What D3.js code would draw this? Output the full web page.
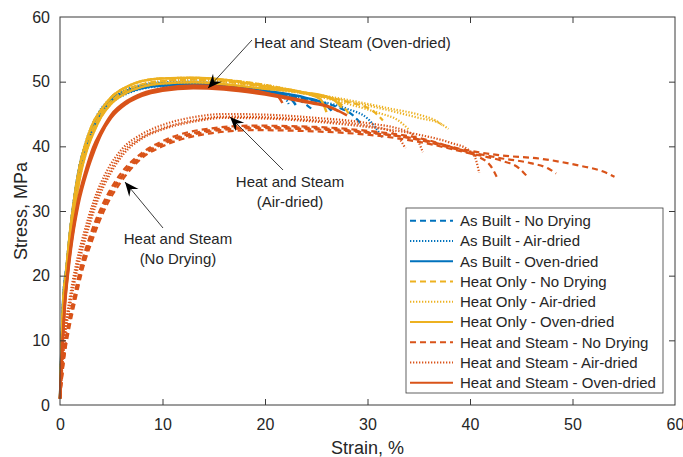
<!DOCTYPE html>
<html>
<head>
<meta charset="utf-8">
<script src="https://cdn.jsdelivr.net/npm/d3@7"></script>
<style>
  body { margin: 0; background: #fff; }
  text { font-family: "Liberation Sans", Arial, Helvetica, sans-serif; fill: #262626; }
</style>
</head>
<body>
<script>
// chart data (strain %, stress MPa), one array per specimen
var seriesNames = [
  "As Built - No Drying", "As Built - Air-dried", "As Built - Oven-dried",
  "Heat Only - No Drying", "Heat Only - Air-dried", "Heat Only - Oven-dried",
  "Heat and Steam - No Drying", "Heat and Steam - Air-dried", "Heat and Steam - Oven-dried"
];

var asBuiltNoDrying = [
  [[0,1],[0.3,16],[0.65,21.5],[1,27],[1.4,32],[1.9,36.8],[2.5,40.3],[3.2,43.2],[4,45.6],[5,47.2],[6.5,48.6],[8,49.3],[10,49.7],[13,49.8],[16,49.4],[20,48.4],[22,47.8],[23.5,47.0],[24.7,45.6]],
  [[0,1],[0.32,15.5],[0.7,21.2],[1.05,26.6],[1.45,31.5],[1.95,36.2],[2.6,40],[3.3,42.9],[4,45.2],[5,46.9],[6.5,48.3],[8,49],[10,49.4],[13,49.5],[16,49.2],[20,48.3],[24,47.3],[27,46.1],[28.5,44.9],[29.3,43.6]]
];
var asBuiltAirDried = [
  [[0,1],[0.3,16.2],[0.65,21.8],[1,27.3],[1.4,32.3],[1.9,37],[2.5,40.6],[3.2,43.5],[4,45.8],[5,47.4],[6.5,48.8],[8,49.5],[10,49.9],[13,50],[16,49.6],[20,48.6],[24,47.4],[28,45.8],[30,44.3],[31.5,41.3]],
  [[0,1],[0.33,15.6],[0.7,21],[1.05,26.4],[1.45,31.3],[1.95,36],[2.6,39.8],[3.3,42.7],[4,45],[5,46.7],[6.5,48.1],[8,48.9],[10,49.3],[13,49.4],[16,49.1],[20,48.2],[21.8,47.6],[22.4,46.3]]
];
var asBuiltOvenDried = [
  [[0,1],[0.3,16],[0.65,21.5],[1,27],[1.4,32],[1.9,36.8],[2.5,40.3],[3.2,43.2],[4,45.6],[5,47.2],[6.5,48.6],[8,49.3],[10,49.7],[13,49.8],[16,49.4],[20,48.6],[24,47.5],[25.8,46.6],[26.5,45.5]],
  [[0,1],[0.32,15.5],[0.7,21.2],[1.05,26.6],[1.45,31.5],[1.95,36.2],[2.6,40],[3.3,42.9],[4,45.2],[5,46.9],[6.5,48.3],[8,49],[10,49.4],[13,49.5],[16,49.2],[20,48.3],[22.3,47.6],[23,46.4]]
];

var heatOnlyNoDrying = [
  [[0,1],[0.33,15.8],[0.65,20.9],[0.98,26],[1.4,31.2],[1.95,36.3],[2.5,39.6],[3.2,42.6],[4,45],[5,47],[6.5,48.7],[8,49.6],[10,50.1],[13,50.3],[16,50],[20,49.2],[24,48.1],[27,47],[28.3,44.8]],
  [[0,1],[0.3,15.5],[0.62,21],[0.95,26.4],[1.35,31.5],[1.9,36.8],[2.45,40.2],[3.1,43.2],[4,45.6],[5,47.6],[6.5,49.2],[8,50.1],[10,50.5],[13,50.6],[16,50.3],[20,49.5],[24,48.2],[28,46.9],[30.5,45.5],[31.5,44]]
];
var heatOnlyAirDried = [
  [[0,1],[0.33,15.8],[0.65,20.9],[0.98,26],[1.4,31.2],[1.95,36.3],[2.5,39.6],[3.2,42.6],[4,45],[5,47],[6.5,48.7],[8,49.6],[10,50.1],[13,50.3],[16,50],[20,49.2],[24,48.2],[28,47],[32,45.6],[35,44.4],[37,43.6],[37.9,42.7]],
  [[0,1],[0.35,15.6],[0.7,20.8],[1.05,25.8],[1.5,31],[2.05,36],[2.6,39.3],[3.3,42.2],[4,44.5],[5,46.6],[6.5,48.3],[8,49.2],[10,49.7],[13,49.9],[16,49.6],[20,48.9],[24,48.1],[28,46.6],[31,45.2],[33,44],[34.1,42.5]],
  [[0,1],[0.3,15.5],[0.62,21],[0.95,26.4],[1.35,31.5],[1.9,36.8],[2.45,40.2],[3.1,43.2],[4,45.6],[5,47.6],[6.5,49.2],[8,50.1],[10,50.5],[13,50.6],[16,50.3],[20,49.5],[24,48.3],[28,47.2],[32,45.9],[35,44.9],[36.5,44.1],[37.3,43.3]]
];
var heatOnlyOvenDried = [
  [[0,1],[0.3,15.5],[0.62,21],[0.95,26.4],[1.35,31.5],[1.9,36.8],[2.45,40.2],[3.1,43.2],[4,45.6],[5,47.6],[6.5,49.2],[8,50.1],[10,50.5],[13,50.6],[16,50.3],[20,49.3],[24,48.2],[25.4,47.3],[26,45.3]],
  [[0,1],[0.35,15.6],[0.7,20.8],[1.05,25.8],[1.5,31],[2.05,36],[2.6,39.3],[3.3,42.2],[4,44.5],[5,46.6],[6.5,48.3],[8,49.2],[10,49.7],[13,49.9],[16,49.6],[20,48.9],[24,48.3],[26.5,47.4],[27.5,46]]
];

var heatSteamNoDrying = [
  [[0,1],[0.4,7.5],[0.9,12.5],[1.46,16.5],[2.1,20.9],[3.1,26],[4.4,31],[5.85,34.8],[8,38.5],[10,40.3],[13.5,42],[19,42.8],[25,42.6],[30,42.1],[35,41.1],[40,39.3],[43,38.6],[46.8,38.1],[50.7,37],[53,36.1],[54.1,35.3]],
  [[0,1],[0.38,7.8],[0.85,12.9],[1.4,17],[2,21.3],[3,26.5],[4.3,31.5],[5.7,35.3],[8,39],[10,40.8],[13.5,42.5],[19,43.2],[25,43],[30,42.4],[35,41.3],[40,39.1],[42.9,38.2],[45.9,37.4],[47.6,36.6],[48.4,35.8]],
  [[0,1],[0.42,7.3],[0.95,12.2],[1.5,16.2],[2.15,20.6],[3.2,25.7],[4.5,30.7],[6,34.6],[8,38.2],[10,40],[13.5,41.7],[19,42.5],[25,42.3],[30,41.8],[35,40.7],[40,38.9],[43,37.8],[44.8,36.6],[45.6,35.3]],
  [[0,1],[0.4,7.6],[0.88,12.7],[1.43,16.8],[2.05,21.1],[3.05,26.2],[4.35,31.2],[5.8,35],[8,38.7],[10,40.5],[13.5,42.2],[19,43],[25,42.8],[30,42.2],[35,41],[38,39.8],[40.5,38.6],[42,37],[42.6,35.3]]
];
var heatSteamAirDried = [
  [[0,1],[0.45,10.5],[0.98,16],[1.6,21],[2.44,26.2],[3.4,31.2],[4.9,36.3],[6,38.9],[8,41.4],[10,42.8],[13,44],[16,44.6],[20,44.5],[25,44],[30,43.2],[32.5,42.2],[33.7,39.7]],
  [[0,1],[0.42,10.8],[0.92,16.3],[1.52,21.4],[2.34,26.6],[3.3,31.6],[4.75,36.7],[6,39.5],[8,41.9],[10,43.3],[13,44.5],[16,45],[20,44.9],[25,44.4],[30,43.6],[34,42.2],[35,40.6],[35.4,39.1]],
  [[0,1],[0.48,10.3],[1.02,15.7],[1.66,20.7],[2.52,25.9],[3.5,30.9],[5,36],[6.2,38.8],[8,41.2],[10,42.6],[13,43.8],[16,44.4],[20,44.3],[25,43.8],[30,43],[35,41.8],[38,40.6],[40,39.3],[40.6,37.8],[40.9,35.9]]
];
var heatSteamOvenDried = [
  [[0,1],[0.49,15.8],[0.8,20.9],[1.2,26],[1.76,31.2],[2.6,36.3],[3.3,39.5],[4,42],[5,44.6],[6.5,46.8],[8,48],[10,48.8],[13,49.2],[16,49],[20,48.2],[24,47],[26.5,46],[28,44.8]],
  [[0,1],[0.47,15.9],[0.78,21.1],[1.17,26.2],[1.72,31.4],[2.55,36.5],[3.22,39.8],[4,42.3],[5,44.9],[6.5,47],[8,48.2],[10,49],[13,49.4],[16,49.2],[20,48.3],[21.2,47.8],[21.7,46.7]],
  [[0,1],[0.5,15.7],[0.82,20.8],[1.23,25.9],[1.8,31],[2.65,36.1],[3.35,39.3],[4,41.8],[5,44.4],[6.5,46.6],[8,47.8],[10,48.6],[13,49],[16,48.8],[20,48],[24,46.8],[26.4,46],[27.2,45.4]]
];

var xTicks = [0, 10, 20, 30, 40, 50, 60];
var yTicks = [0, 10, 20, 30, 40, 50, 60];

// annotations: text lines, text anchor (data), arrow tail and tip (data)
var noteTexts = [["Heat and Steam (Oven-dried)"], ["Heat and Steam", "(Air-dried)"], ["Heat and Steam", "(No Drying)"]];
var noteAnchors = [[18.93, 55.98], [22.44, 34.6], [11.51, 25.8]];
var noteTails = [[18.73, 56.44], [21.76, 36.34], [10.05, 27.37]];
var noteTips = [[14.44, 49.0], [16.59, 44.53], [6.34, 34.48]];

// styles
var allSeries = [asBuiltNoDrying, asBuiltAirDried, asBuiltOvenDried,
                 heatOnlyNoDrying, heatOnlyAirDried, heatOnlyOvenDried,
                 heatSteamNoDrying, heatSteamAirDried, heatSteamOvenDried];
var colors = ["#0072BD", "#EDB120", "#D95319"];
var dashes = ["6,4", "1.3,1.7", null];

var W = 683, H = 457;
var margin = {top: 17, right: 8, bottom: 52, left: 60},
    width = W - margin.left - margin.right,
    height = H - margin.top - margin.bottom;

var x = d3.scaleLinear().domain([0, 60]).range([0, width]),
    y = d3.scaleLinear().domain([0, 60]).range([height, 0]);

var svg = d3.select("body").append("svg")
    .attr("width", W).attr("height", H)
  .append("g")
    .attr("transform", "translate(" + margin.left + "," + margin.top + ")");

var line = d3.line()
    .x(function(d) { return x(d[0]); })
    .y(function(d) { return y(d[1]); })
    .curve(d3.curveMonotoneX);

// curves
allSeries.forEach(function(reps, i) {
  svg.append("g").selectAll("path")
    .data(reps).enter().append("path")
      .attr("d", line)
      .attr("fill", "none")
      .attr("stroke", colors[Math.floor(i / 3)])
      .attr("stroke-width", i % 3 === 2 ? 2.5 : 2.2)
      .attr("stroke-dasharray", dashes[i % 3]);
});

// axes (box with inward ticks)
var axisCol = "#3a3a3a";
var tickLen = 6;
svg.append("rect")
    .attr("width", width).attr("height", height)
    .attr("fill", "none").attr("stroke", axisCol).attr("stroke-width", 1);

var xa = svg.append("g").attr("transform", "translate(0," + height + ")")
    .call(d3.axisBottom(x).tickValues(xTicks).tickSizeInner(-tickLen).tickSizeOuter(0).tickPadding(14));
var ya = svg.append("g")
    .call(d3.axisLeft(y).tickValues(yTicks).tickSizeInner(-tickLen).tickSizeOuter(0).tickPadding(10));
var xt = svg.append("g")
    .call(d3.axisTop(x).tickValues(xTicks).tickSizeInner(-tickLen).tickSizeOuter(0).tickFormat(""));
var yr = svg.append("g").attr("transform", "translate(" + width + ",0)")
    .call(d3.axisRight(y).tickValues(yTicks).tickSizeInner(-tickLen).tickSizeOuter(0).tickFormat(""));

[xa, ya, xt, yr].forEach(function(a) {
  a.select(".domain").remove();
  a.selectAll("line").attr("stroke", axisCol);
  a.selectAll("text").attr("font-size", 16).attr("fill", "#262626")
    .style("font-family", '"Liberation Sans", Arial, sans-serif');
  a.selectAll(".tick line").filter(function(d) { return d === 0 || d === 60; }).remove();
});

// axis labels
svg.append("text")
    .attr("x", width / 2).attr("y", height + 49)
    .attr("text-anchor", "middle").attr("font-size", 18)
    .text("Strain, %");
svg.append("text")
    .attr("transform", "translate(" + (27 - margin.left) + "," + (height / 2) + ") rotate(-90)")
    .attr("text-anchor", "middle").attr("font-size", 18)
    .text("Stress, MPa");

// annotations
function arrowHead(t, h) {
  var dx = t[0] - h[0], dy = t[1] - h[1], L = Math.sqrt(dx * dx + dy * dy);
  var ux = dx / L, uy = dy / L, px = -uy, py = ux;
  var len = 14, half = 6, back = 9;
  var bx = h[0] + ux * len, by = h[1] + uy * len;
  return "M" + h[0] + "," + h[1] +
    "L" + (bx + px * half) + "," + (by + py * half) +
    "L" + (h[0] + ux * back) + "," + (h[1] + uy * back) +
    "L" + (bx - px * half) + "," + (by - py * half) + "Z";
}
noteTexts.forEach(function(lines, i) {
  var tail = [x(noteTails[i][0]), y(noteTails[i][1])];
  var tip = [x(noteTips[i][0]), y(noteTips[i][1])];
  svg.append("line")
      .attr("x1", tail[0]).attr("y1", tail[1]).attr("x2", tip[0]).attr("y2", tip[1])
      .attr("stroke", "#262626").attr("stroke-width", 0.9);
  svg.append("path").attr("d", arrowHead(tail, tip)).attr("fill", "#000");
  var t = svg.append("text")
      .attr("font-size", 15)
      .attr("text-anchor", lines.length === 1 ? "start" : "middle");
  lines.forEach(function(s, j) {
    t.append("tspan")
      .attr("x", x(noteAnchors[i][0]))
      .attr("y", y(noteAnchors[i][1]) + 5.4 + j * 20)
      .text(s);
  });
});

// legend
var lg = svg.append("g").attr("transform", "translate(" + (406 - margin.left) + "," + (208 - margin.top) + ")");
lg.append("rect")
    .attr("width", 257).attr("height", 185)
    .attr("fill", "#fff").attr("stroke", axisCol).attr("stroke-width", 0.8);
seriesNames.forEach(function(name, i) {
  var yy = 12.7 + i * 20.25;
  lg.append("line")
      .attr("x1", 4).attr("x2", 47).attr("y1", yy).attr("y2", yy)
      .attr("stroke", colors[Math.floor(i / 3)])
      .attr("stroke-width", 2)
      .attr("stroke-dasharray", dashes[i % 3]);
  lg.append("text")
      .attr("x", 54).attr("y", yy + 5.3)
      .attr("font-size", 15)
      .text(name);
});
</script>
</body>
</html>
